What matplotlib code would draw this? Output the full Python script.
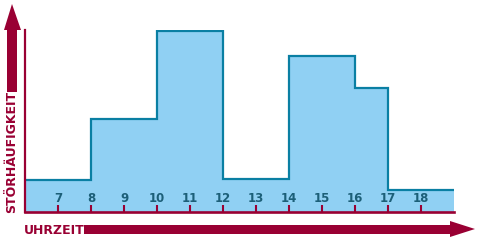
import matplotlib.pyplot as plt
from matplotlib.patches import Polygon
import numpy as np

# Stunden-Grenzen und Störhäufigkeit je Abschnitt (relative Höhe)
edges = [6, 8, 10, 12, 14, 16, 17, 19]
stoerung = [32, 93, 181, 33, 156, 124, 22]
ticks = [7, 8, 9, 10, 11, 12, 13, 14, 15, 16, 17, 18]
tick_labels = [str(t) for t in ticks]

red = '#990033'
edge_blue = '#0a7fa3'
fill_blue = '#90d0f3'
label_col = '#1c5f78'

W, H = 481, 245
fig = plt.figure(figsize=(W / 100, H / 100), dpi=100)

# Plotbereich: x von 25 bis 454 px, y von 30 bis 212 px (von oben)
ax = fig.add_axes([25 / W, 33 / H, 429 / W, 182 / H])
ax.stairs(stoerung, edges, fill=True, color=fill_blue, baseline=0)
ax.stairs(stoerung, edges, fill=False, baseline=None, color=edge_blue, lw=1.6)
ax.set_xlim(6, 19)
ax.set_ylim(0, 182)

for s in ['top', 'right']:
    ax.spines[s].set_visible(False)
ax.spines['right'].set_visible(False)
ax.spines['left'].set_color(red)
ax.spines['left'].set_linewidth(1.6)
ax.spines['bottom'].set_color(red)
ax.spines['bottom'].set_linewidth(1.9)
ax.set_yticks([])
ax.set_xticks(ticks)
ax.set_xticklabels(tick_labels)
ax.tick_params(axis='x', direction='in', length=5, width=1.5, color=red,
               pad=-14.5, labelsize=8.5, labelcolor=label_col)
for lbl in ax.get_xticklabels():
    lbl.set_fontweight('bold')

# Pfeile und Achsentitel in Pixelkoordinaten
ov = fig.add_axes([0, 0, 1, 1], zorder=-1)
ov.set_xlim(0, W)
ov.set_ylim(H, 0)
ov.axis('off')
ov.add_patch(Polygon([(7, 92), (7, 30), (4, 30), (12, 4), (21, 30), (17, 30), (17, 92)],
                     closed=True, color=red, lw=0))
ov.add_patch(Polygon([(84, 225), (450, 225), (450, 221), (475, 229), (450, 237), (450, 234), (84, 234)],
                     closed=True, color=red, lw=0))
ov.text(12, 213, 'STÖRHÄUFIGKEIT', rotation=90, ha='center', va='bottom',
        color=red, fontsize=9, fontweight='bold')
ov.text(24, 230, 'UHRZEIT', ha='left', va='center',
        color=red, fontsize=9, fontweight='bold')

fig.savefig('out.png', dpi=100)
